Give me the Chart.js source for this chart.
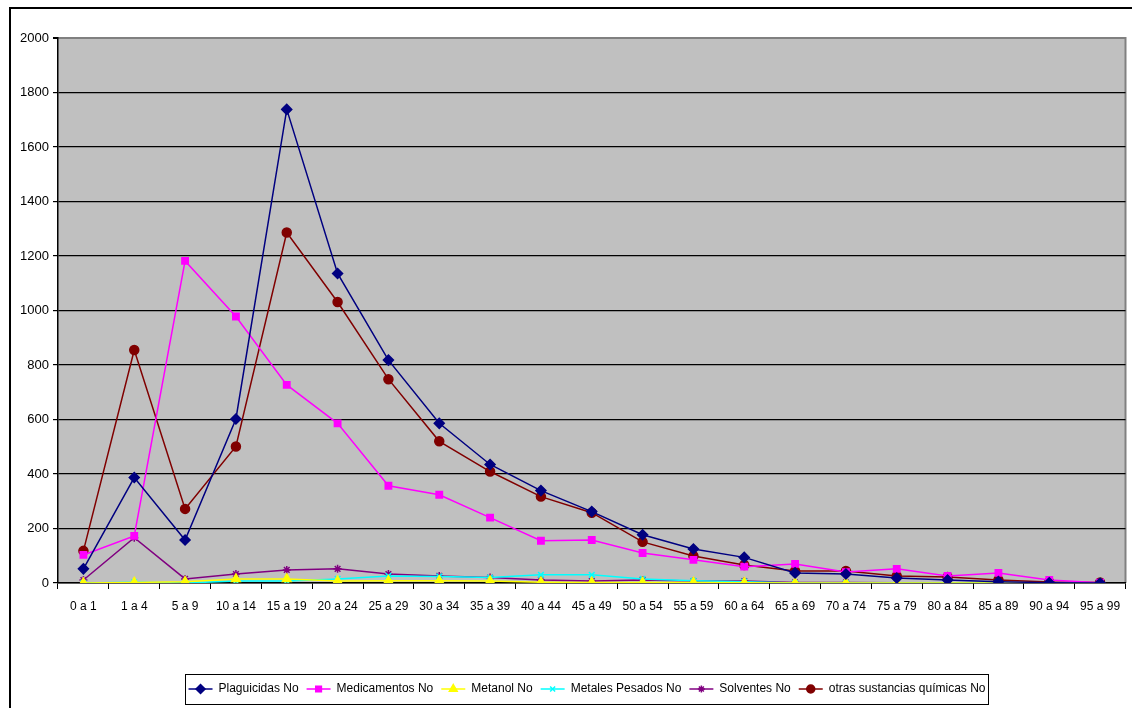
<!DOCTYPE html>
<html lang="es">
<head>
  <meta charset="UTF-8">
  <title>Intoxicaciones por grupo de edad</title>
  <script src="https://cdn.jsdelivr.net/npm/chart.js"></script>
  <style>
    * { margin: 0; padding: 0; box-sizing: border-box; }
    body { background: white; width: 1132px; height: 708px; overflow: hidden; }
    #wrap { position: relative; width: 1132px; height: 708px; }
  </style>
</head>
<body>
  <div id="wrap"><canvas id="chart" width="1132" height="708"></canvas></div>

  <script>
    const ageGroups = ['0 a 1', '1 a 4', '5 a 9', '10 a 14', '15 a 19', '20 a 24', '25 a 29', '30 a 34',
      '35 a 39', '40 a 44', '45 a 49', '50 a 54', '55 a 59', '60 a 64', '65 a 69', '70 a 74',
      '75 a 79', '80 a 84', '85 a 89', '90 a 94', '95 a 99'];

    const plaguicidas = [52, 387, 158, 602, 1738, 1136, 818, 586, 435, 339, 262, 177, 125, 94, 37, 33, 18, 11, 5, 1, 0];
    const medicamentos = [103, 173, 1182, 978, 727, 586, 357, 324, 240, 155, 158, 110, 85, 60, 70, 40, 52, 26, 37, 11, 1];
    const metanol = [0, 2, 5, 15, 15, 7, 8, 8, 7, 3, 2, 2, 2, 1, 0, 0, 0, 0, 0, 0, 0];
    const metalesPesados = [0, 3, 0, 7, 7, 15, 26, 24, 20, 30, 30, 15, 8, 5, 0, 0, 0, 0, 0, 0, 0];
    const solventes = [11, 166, 15, 33, 48, 52, 33, 26, 20, 11, 7, 11, 7, 7, 2, 2, 1, 1, 1, 0, 0];
    const otrasSustancias = [118, 855, 272, 501, 1286, 1031, 748, 520, 409, 317, 258, 151, 99, 66, 44, 44, 26, 22, 11, 4, 2];

    const yTicks = [0, 200, 400, 600, 800, 1000, 1200, 1400, 1600, 1800, 2000];

    const sans = "'Liberation Sans', Arial, sans-serif";

    function serie(label, data, color, style, radius) {
      return {
        label: label,
        data: data,
        borderColor: color,
        backgroundColor: color,
        borderWidth: 1.5,
        pointStyle: style,
        pointRadius: radius,
        pointBorderWidth: 1.5,
        pointHoverRadius: radius,
        tension: 0,
        fill: false
      };
    }

    // plot background, outer frame and the boxed legend with line + marker
    const excelLook = {
      id: 'excelLook',
      afterLayout(chart) {
        // legend sits a bit right of the canvas centre in the original
        chart.legend.left += 19;
        chart.legend.right += 19;
      },
      beforeDraw(chart) {
        const { ctx, chartArea: a } = chart;
        ctx.save();
        ctx.fillStyle = '#C0C0C0';
        ctx.fillRect(a.left, a.top, a.right - a.left, a.bottom - a.top);
        ctx.strokeStyle = '#808080';
        ctx.lineWidth = 2;
        ctx.beginPath();
        ctx.moveTo(a.left, a.top);
        ctx.lineTo(a.right, a.top);
        ctx.lineTo(a.right, a.bottom);
        ctx.stroke();
        ctx.restore();
      },
      afterDraw(chart) {
        const ctx = chart.ctx;
        ctx.save();
        ctx.strokeStyle = '#000';
        ctx.lineWidth = 2;
        ctx.strokeRect(10, 8, 1300, 900);

        const legend = chart.legend;
        const boxes = legend.legendHitBoxes;
        if (boxes && boxes.length) {
          const bw = legend.options.labels.boxWidth;
          let minX = Infinity, maxX = -Infinity, minY = Infinity, maxY = -Infinity;
          boxes.forEach((b, i) => {
            minX = Math.min(minX, b.left); maxX = Math.max(maxX, b.left + b.width);
            minY = Math.min(minY, b.top); maxY = Math.max(maxY, b.top + b.height);
            const ds = chart.data.datasets[i];
            const cy = b.top + b.height / 2;
            ctx.strokeStyle = ds.borderColor;
            ctx.lineWidth = 1.5;
            ctx.beginPath();
            ctx.moveTo(b.left, cy);
            ctx.lineTo(b.left + bw, cy);
            ctx.stroke();
            ctx.fillStyle = ds.backgroundColor;
            Chart.helpers.drawPoint(ctx, {
              pointStyle: ds.pointStyle, radius: ds.pointRadius - 0.5, borderWidth: 1.5, rotation: 0
            }, b.left + bw / 2, cy);
          });
          ctx.strokeStyle = '#000';
          ctx.lineWidth = 1;
          ctx.strokeRect(Math.round(minX - 4) + 0.5, Math.round(minY - 9) + 0.5,
            Math.round(maxX - minX + 6), Math.round(maxY - minY + 18));
        }
        ctx.restore();
      }
    };

    new Chart(document.getElementById('chart'), {
      type: 'line',
      data: {
        labels: ageGroups,
        datasets: [
          serie('Plaguicidas No', plaguicidas, '#000080', 'rectRot', 5),
          serie('Medicamentos No', medicamentos, '#FF00FF', 'rect', 4.5),
          serie('Metanol No', metanol, '#FFFF00', 'triangle', 5),
          serie('Metales Pesados No', metalesPesados, '#00FFFF', 'crossRot', 4),
          serie('Solventes No', solventes, '#800080', 'star', 4),
          serie('otras sustancias químicas No', otrasSustancias, '#800000', 'circle', 4.5)
        ]
      },
      options: {
        responsive: false,
        animation: false,
        layout: { padding: { top: 38, right: 6, left: 10, bottom: 3 } },
        plugins: {
          tooltip: { enabled: false },
          legend: {
            position: 'bottom',
            labels: {
              color: '#000',
              boxWidth: 24,
              boxHeight: 10,
              padding: 8,
              font: { family: sans, size: 12 },
              generateLabels(chart) {
                return Chart.defaults.plugins.legend.labels.generateLabels(chart).map(l => {
                  l.fillStyle = 'rgba(0,0,0,0)';
                  l.strokeStyle = 'rgba(0,0,0,0)';
                  l.lineWidth = 0;
                  return l;
                });
              }
            }
          }
        },
        scales: {
          x: {
            offset: true,
            afterFit(scale) { scale.height = 92; },
            grid: {
              offset: true,
              drawOnChartArea: false,
              drawTicks: true,
              tickLength: 6,
              tickColor: '#000'
            },
            border: { color: '#000', width: 1.5 },
            ticks: {
              color: '#000',
              maxRotation: 0,
              autoSkip: false,
              padding: 10,
              font: { family: sans, size: 12 }
            }
          },
          y: {
            min: 0,
            max: 2000,
            afterFit(scale) { scale.width = 48; },
            afterBuildTicks(scale) { scale.ticks = yTicks.map(v => ({ value: v })); },
            grid: {
              color: ctx => (ctx.tick && ctx.tick.value === 2000 ? '#808080' : '#000'),
              lineWidth: ctx => (ctx.tick && ctx.tick.value === 2000 ? 2 : 1.2),
              tickLength: 5,
              tickColor: '#000'
            },
            border: { color: '#000', width: 1.5 },
            ticks: {
              color: '#000',
              padding: 4,
              font: { family: sans, size: 13 },
              callback: v => String(v)
            }
          }
        }
      },
      plugins: [excelLook]
    });
  </script>
</body>
</html>
